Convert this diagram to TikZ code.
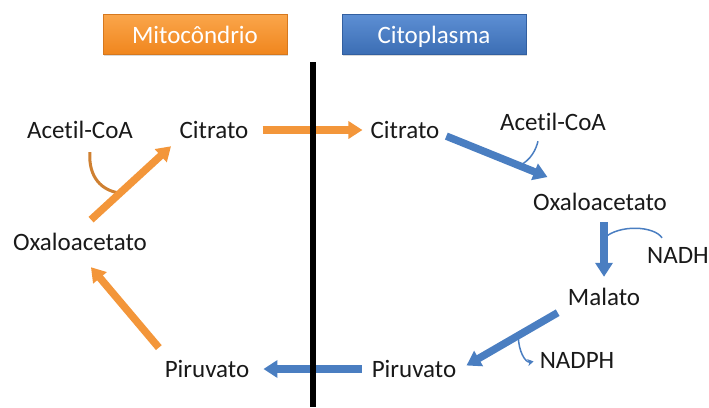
\documentclass[tikz,border=0pt]{standalone}
\usepackage{fontspec}
\setmainfont{Carlito}[Ligatures={NoCommon}]
\usepackage{tikz}
\usetikzlibrary{arrows.meta,shadows}

\definecolor{mitoorange}{RGB}{243,150,58}
\definecolor{cytoblue}{RGB}{74,126,193}

\begin{document}
\begin{tikzpicture}[x=1pt, y=-1pt,
			txtnode/.style={inner sep=4pt, text height=16pt, text depth=0pt, font=\fontsize{25}{30}\selectfont, text=black!90},
			headbox/.style={minimum width=184pt, minimum height=40pt, inner sep=0pt, text height=18pt, text depth=0pt, font=\fontsize{25}{30}\selectfont, text=white, drop shadow={shadow xshift=1pt, shadow yshift=-2pt, opacity=0.3}},
			orangearrow/.style={line width=7.5pt, draw=mitoorange, -{Triangle[width=17pt,length=14pt]}},
			bluearrow/.style={line width=7.5pt, draw=cytoblue, -{Triangle[width=17pt,length=14pt]}},
			thinorange/.style={line width=3pt, draw=mitoorange!85!black},
			thinblue/.style={line width=1.5pt, draw=cytoblue},
		]
			\useasboundingbox (0,0) rectangle (709,407);

			%Headers
			\node[headbox, top color={rgb,255:red,250;green,166;blue,75}, bottom color={rgb,255:red,240;green,134;blue,30}, draw={rgb,255:red,214;green,120;blue,30}]	(mito) at (195,34)	{Mitocôndrio};
			\node[headbox, top color={rgb,255:red,93;green,143;blue,212}, bottom color={rgb,255:red,60;green,110;blue,180}, draw={rgb,255:red,50;green,95;blue,160}]	(cyto) at (434,34)	{Citoplasma};

			%Nodes
			\node[txtnode]	(acL)	at (80,130)		{Acetil-CoA};
			\node[txtnode]	(citL)	at (214,130)	{Citrato};
			\node[txtnode]	(oxL)	at (80,242)		{Oxaloacetato};
			\node[txtnode]	(piL)	at (207,369)	{Piruvato};
			\node[txtnode]	(citR)	at (405,130)	{Citrato};
			\node[txtnode]	(acR)	at (553,122)	{Acetil-CoA};
			\node[txtnode]	(oxR)	at (600,202)	{Oxaloacetato};
			\node[txtnode]	(nadh)	at (678,255)	{NADH};
			\node[txtnode]	(mal)	at (604,297)	{Malato};
			\node[txtnode]	(nadph)	at (577,360)	{NADPH};
			\node[txtnode]	(piR)	at (414,369)	{Piruvato};

			\coordinate (lineTop) at (313,62);
			\coordinate (lineBot) at (313,407);

			%Joins on the arrows
			\path (oxL.north) -- (citL.south west) coordinate[pos=0.42] (jL);
			\path ([yshift=-5pt]citR.east) -- ([xshift=-21pt]oxR.north) coordinate[pos=0.56] (jR1);
			\path (oxR.south -| mal.north) -- (mal.north) coordinate[pos=0.34] (jR2);
			\path (mal.south west) -- (piR.east) coordinate[pos=0.44] (jR3);

			%Side curves
			\draw[thinorange]	([xshift=10pt,yshift=-10pt]acL.south) .. controls +(-2,25) and +(-18,-2) .. (jL);
			\draw[thinblue]		([xshift=-15pt,yshift=-7pt]acR.south) .. controls +(-2,8) and +(12,-6) .. (jR1);
			\draw[thinblue]		([xshift=-16pt,yshift=5pt]nadh.north) .. controls +(-8,-12) and +(15,-14) .. (jR2);
			\draw[thinblue, -{Stealth[length=6pt,width=7pt]}, shorten >=2pt]	(jR3) .. controls +(0,16) and +(-10,2) .. ([yshift=-1pt]nadph.west);

			%Lines
			\draw[orangearrow, shorten <=10pt, shorten >=4pt]	(citL.east) -- (citR.west);
			\draw[orangearrow, shorten <=15pt, shorten >=6pt]	(oxL.north) -- (citL.south west);
			\draw[orangearrow, shorten <=12pt, shorten >=17pt]	([xshift=6pt]piL.north west) -- (oxL.south);
			\draw[bluearrow, shorten <=3pt, shorten >=34pt]	([yshift=-5pt]citR.east) -- ([xshift=-21pt]oxR.north);
			\draw[bluearrow, shorten <=8pt, shorten >=8pt]	(oxR.south -| mal.north) -- (mal.north);
			\draw[bluearrow, shorten <=7pt, shorten >=7pt]	(mal.south west) -- (piR.east);
			\draw[bluearrow, shorten <=6pt, shorten >=10pt]	(piR.west) -- (piL.east);

			%Membrane
			\draw[line width=6pt]	(lineTop) -- (lineBot);

		\end{tikzpicture}
\end{document}
